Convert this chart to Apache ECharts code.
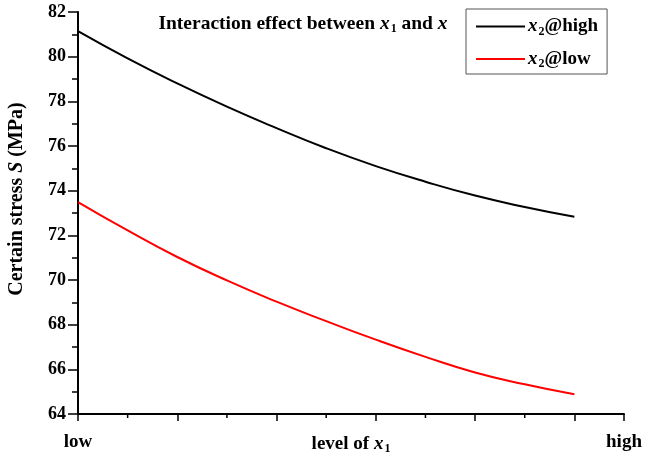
<!DOCTYPE html>
<html>
<head>
<meta charset="utf-8">
<script src="https://cdn.jsdelivr.net/npm/echarts@6/dist/echarts.min.js"></script>
<style>
  html, body { margin: 0; padding: 0; background: #fff; }
  #chart { width: 645px; height: 462px; }
</style>
</head>
<body>
<div id="chart"></div>
<script>
// Level of x1 (coded 0 = low ... 11 = high end of axis)
const levels = [0, 1, 2, 3, 4, 5, 6, 7, 8, 9, 10];
// Certain stress S (MPa) with x2 held at its high level
const stressHigh = [81.14, 79.92, 78.80, 77.76, 76.80, 75.90, 75.10, 74.40, 73.78, 73.27, 72.83];
// Certain stress S (MPa) with x2 held at its low level
const stressLow = [73.49, 72.22, 71.03, 69.98, 69.03, 68.16, 67.33, 66.56, 65.86, 65.33, 64.88];
// Axis labels and tick positions
const xTickLabels = { 0: 'low', 11: 'high' };
const xMajorTicks = [0, 2, 4, 6, 8, 10, 11];
const xMinorTicks = [1, 3, 5, 7, 9];
const yTicks = [64, 66, 68, 70, 72, 74, 76, 78, 80, 82];

const FONT = "'Liberation Serif', 'Times New Roman', serif";
function rich(size) {
  return {
    b: { fontFamily: FONT, fontWeight: 'bold', fontSize: size, color: '#000' },
    i: { fontFamily: FONT, fontWeight: 'bold', fontStyle: 'italic', fontSize: size, color: '#000' },
    sub: { fontFamily: FONT, fontWeight: 'bold', fontSize: Math.round(size * 0.62), color: '#000',
           verticalAlign: 'bottom', padding: [Math.round(size * 0.55), 0, 0, 1] }
  };
}

const pairs = (ys) => levels.map((x, k) => [x, ys[k]]);

const chart = echarts.init(document.getElementById('chart'), null, { renderer: 'canvas' });

const yName = {
  type: 'text',
  x: 17,
  y: 199,
  rotation: Math.PI / 2,
  style: {
    text: '{b|Certain stress }{i|S}{b| (MPa)}',
    align: 'center',
    verticalAlign: 'middle',
    rich: rich(20)
  }
};

chart.setOption({
  backgroundColor: '#fff',
  animation: false,
  title: {
    text: '{b|Interaction effect between }{i|x}{sub|1}{b| and }{i|x}',
    left: 298,
    textAlign: 'center',
    top: 7,
    textStyle: { rich: rich(19.5) }
  },
  legend: {
    orient: 'vertical',
    left: 466,
    top: 9,
    padding: [8, 9, 4, 10],
    itemGap: 12,
    itemWidth: 49,
    itemHeight: 2,
    icon: 'rect',
    borderColor: '#555',
    borderWidth: 1,
    data: ['x2@high', 'x2@low'],
    formatter: (name) => name === 'x2@high'
      ? '{i|x}{sub|2}{b|@high}'
      : '{i|x}{sub|2}{b|@low}',
    textStyle: { rich: rich(19), padding: [0, 0, 0, -2] }
  },
  grid: { left: 78, right: 21, top: 12, bottom: 48, outerBoundsMode: 'none', containLabel: false },
  xAxis: {
    type: 'value',
    min: 0,
    max: 11,
    interval: 1,
    splitLine: { show: false },
    axisLine: { show: true, lineStyle: { color: '#000', width: 2 } },
    axisTick: {
      show: true, length: 7, customValues: xMajorTicks,
      lineStyle: { color: '#000', width: 1.5 }
    },
    minorTick: { show: false },
    axisLabel: {
      customValues: [0, 11],
      formatter: (v) => xTickLabels[v] || '',
      margin: 19,
      fontFamily: FONT, fontWeight: 'bold', fontSize: 19, color: '#000'
    }
  },
  yAxis: {
    type: 'value',
    min: 64,
    max: 82,
    interval: 2,
    splitLine: { show: false },
    axisLine: { show: true, lineStyle: { color: '#000', width: 2 } },
    axisTick: { show: true, length: 10, customValues: yTicks, lineStyle: { color: '#000', width: 1.5 } },
    minorTick: { show: true, splitNumber: 2, length: 6, lineStyle: { color: '#000', width: 1.5 } },
    axisLabel: {
      margin: 12,
      fontFamily: FONT, fontWeight: 'bold', fontSize: 18, color: '#000'
    }
  },
  graphic: [yName],
  series: [
    {
      name: 'x2@high',
      type: 'line',
      data: pairs(stressHigh),
      smooth: true,
      showSymbol: false,
      lineStyle: { color: '#000', width: 2 },
      itemStyle: { color: '#000' }
    },
    {
      name: 'x2@low',
      type: 'line',
      data: pairs(stressLow),
      smooth: true,
      showSymbol: false,
      lineStyle: { color: '#ff0000', width: 2 },
      itemStyle: { color: '#ff0000' }
    }
  ]
});

// Short ticks at the odd levels of x1, placed through the axis scale
const minorGfx = xMinorTicks.map((v) => {
  const p = chart.convertToPixel({ gridIndex: 0 }, [v, 64]);
  return {
    type: 'line',
    shape: { x1: p[0], y1: p[1], x2: p[0], y2: p[1] + 4 },
    style: { stroke: '#000', lineWidth: 1.5 },
    silent: true
  };
});

// x-axis title, centred under the axis on the same row as the end labels
const axisMid = chart.convertToPixel({ gridIndex: 0 }, [5.5, 64]);
const xName = {
  type: 'text',
  x: axisMid[0],
  y: axisMid[1] + 19,
  style: {
    text: '{b|level of }{i|x}{sub|1}',
    align: 'center',
    verticalAlign: 'top',
    rich: rich(19)
  }
};

chart.setOption({ graphic: [yName, xName, ...minorGfx] }, { replaceMerge: ['graphic'] });
</script>
</body>
</html>
